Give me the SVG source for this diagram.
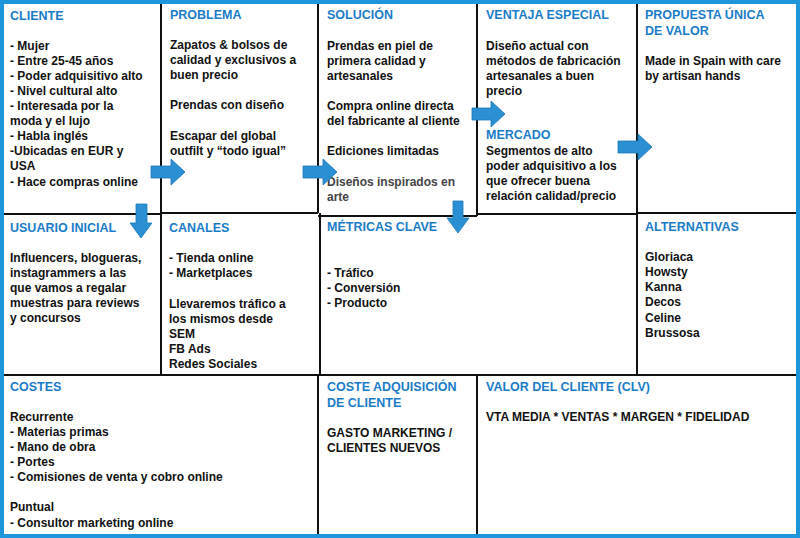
<svg xmlns="http://www.w3.org/2000/svg" width="800" height="538" viewBox="0 0 800 538">
<style>
.h{font-family:"Liberation Sans",Arial,sans-serif;font-weight:bold;font-size:12.5px;fill:#1a7cc8}
.t{font-family:"Liberation Sans",Arial,sans-serif;font-weight:bold;font-size:12px;fill:#111}
.g{stroke:#111;stroke-width:2;fill:none}
.a{fill:#2b8fd3;stroke:#1d78b8;stroke-width:0.8}
</style>
<rect x="0" y="0" width="800" height="538" fill="#fff"/>
<g id="grid">
<path class="g" d="M161 4V375M318 4V213M320 213V375M318 375V534M477 4V216M477 375V534M637 4V375M4 214H161M161 213H318M318 216H477M477 214H637M637 213H796M4 375H796"/>
</g>
<rect x="2" y="2" width="796" height="534" fill="none" stroke="#1f96dc" stroke-width="4"/>
<g id="cliente"><text class="h" x="10" y="20">CLIENTE</text>
<text class="t"><tspan x="10" y="50">- Mujer</tspan><tspan x="10" y="65">- Entre 25-45 años</tspan><tspan x="10" y="80">- Poder adquisitivo alto</tspan><tspan x="10" y="95">- Nivel cultural alto</tspan><tspan x="10" y="110">- Interesada por la</tspan><tspan x="10" y="125">moda y el lujo</tspan><tspan x="10" y="140">- Habla inglés</tspan><tspan x="10" y="155">-Ubicadas en EUR y</tspan><tspan x="10" y="170">USA</tspan><tspan x="10" y="186">- Hace compras online</tspan></text></g>
<g id="problema"><text class="h" x="170" y="19">PROBLEMA</text>
<text class="t"><tspan x="170" y="49">Zapatos &amp; bolsos de</tspan><tspan x="170" y="64">calidad y exclusivos a</tspan><tspan x="170" y="79">buen precio</tspan><tspan x="170" y="109">Prendas con diseño</tspan><tspan x="170" y="140">Escapar del global</tspan><tspan x="170" y="155">outfilt y “todo igual”</tspan></text></g>
<g id="solucion"><text class="h" x="327" y="19">SOLUCIÓN</text>
<text class="t"><tspan x="327" y="50">Prendas en piel de</tspan><tspan x="327" y="65">primera calidad y</tspan><tspan x="327" y="80">artesanales</tspan><tspan x="327" y="110">Compra online directa</tspan><tspan x="327" y="125">del fabricante al cliente</tspan><tspan x="327" y="155">Ediciones limitadas</tspan><tspan x="327" y="186" fill="#444">Diseños inspirados en</tspan><tspan x="327" y="201" fill="#444">arte</tspan></text></g>
<g id="ventaja"><text class="h" x="486" y="19">VENTAJA ESPECIAL</text>
<text class="t"><tspan x="486" y="50">Diseño actual con</tspan><tspan x="486" y="65">métodos de fabricación</tspan><tspan x="486" y="80">artesanales a buen</tspan><tspan x="486" y="95">precio</tspan></text></g>
<g id="mercado"><text class="h" x="486" y="139">MERCADO</text>
<text class="t"><tspan x="486" y="155">Segmentos de alto</tspan><tspan x="486" y="170">poder adquisitivo a los</tspan><tspan x="486" y="185">que ofrecer buena</tspan><tspan x="486" y="200">relación calidad/precio</tspan></text></g>
<g id="propuesta"><text class="h"><tspan x="645" y="19">PROPUESTA ÚNICA</tspan><tspan x="645" y="35">DE VALOR</tspan></text>
<text class="t"><tspan x="645" y="65">Made in Spain with care</tspan><tspan x="645" y="80">by artisan hands</tspan></text></g>
<g id="usuario"><text class="h" x="10" y="232">USUARIO INICIAL</text>
<text class="t"><tspan x="10" y="262">Influencers, blogueras,</tspan><tspan x="10" y="277">instagrammers a las</tspan><tspan x="10" y="292">que vamos a regalar</tspan><tspan x="10" y="307">muestras para reviews</tspan><tspan x="10" y="322">y concursos</tspan></text></g>
<g id="canales"><text class="h" x="169" y="232">CANALES</text>
<text class="t"><tspan x="169" y="262">- Tienda online</tspan><tspan x="169" y="277">- Marketplaces</tspan><tspan x="169" y="308">Llevaremos tráfico a</tspan><tspan x="169" y="323">los mismos desde</tspan><tspan x="169" y="338">SEM</tspan><tspan x="169" y="353">FB Ads</tspan><tspan x="169" y="368">Redes Sociales</tspan></text></g>
<g id="metricas"><text class="h" x="327" y="231">MÉTRICAS CLAVE</text>
<text class="t"><tspan x="327" y="277">- Tráfico</tspan><tspan x="327" y="292">- Conversión</tspan><tspan x="327" y="307">- Producto</tspan></text></g>
<g id="alternativas"><text class="h" x="645" y="231">ALTERNATIVAS</text>
<text class="t"><tspan x="645" y="261">Gloriaca</tspan><tspan x="645" y="276">Howsty</tspan><tspan x="645" y="291">Kanna</tspan><tspan x="645" y="306">Decos</tspan><tspan x="645" y="322">Celine</tspan><tspan x="645" y="337">Brussosa</tspan></text></g>
<g id="costes"><text class="h" x="10" y="391">COSTES</text>
<text class="t"><tspan x="10" y="421">Recurrente</tspan><tspan x="10" y="436">- Materias primas</tspan><tspan x="10" y="451">- Mano de obra</tspan><tspan x="10" y="466">- Portes</tspan><tspan x="10" y="481">- Comisiones  de venta y cobro online</tspan><tspan x="10" y="511">Puntual</tspan><tspan x="10" y="527">- Consultor marketing online</tspan></text></g>
<g id="cac"><text class="h"><tspan x="327" y="391">COSTE ADQUISICIÓN</tspan><tspan x="327" y="407">DE CLIENTE</tspan></text>
<text class="t"><tspan x="327" y="437">GASTO MARKETING /</tspan><tspan x="327" y="452">CLIENTES NUEVOS</tspan></text></g>
<g id="clv"><text class="h" x="486" y="391">VALOR DEL CLIENTE (CLV)</text>
<text class="t" x="486" y="421">VTA MEDIA * VENTAS * MARGEN * FIDELIDAD</text></g>
<g id="connectors">
<path class="a" d="M151 166H171V159L185 172L171 185V178H151Z"/>
<path class="a" d="M303 166H323V159L337 172L323 185V178H303Z"/>
<path class="a" d="M472 108H491V101L505 114L491 127V120H472Z"/>
<path class="a" d="M618 141H638V134L652 147L638 160V153H618Z"/>
<path class="a" d="M136 204H147V223H152L141 238L130 223H136Z"/>
<path class="a" d="M453 201H463V218H469L458 233L447 218H453Z"/>
</g>
</svg>
